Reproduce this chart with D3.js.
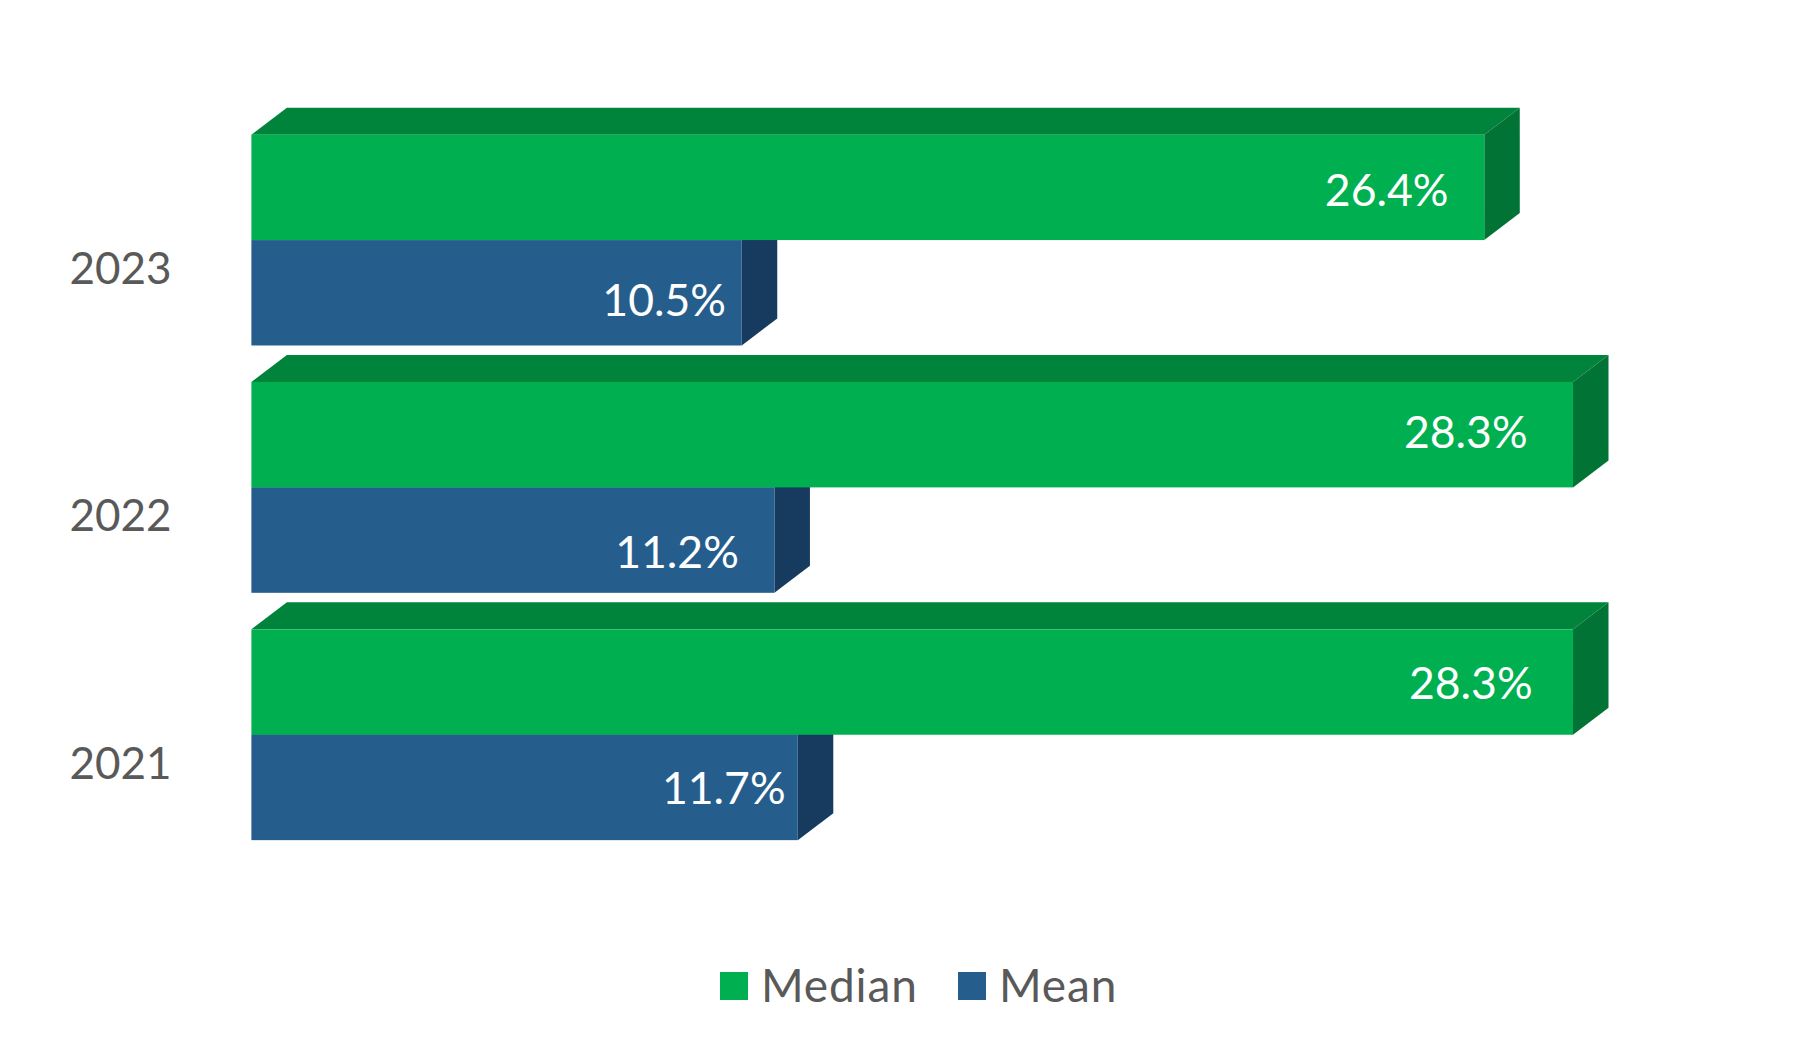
<!DOCTYPE html>
<html>
<head>
<meta charset="utf-8">
<script src="https://cdn.jsdelivr.net/npm/d3@7"></script>
<style>
  html, body { margin: 0; padding: 0; background: #fff; }
  svg { display: block; }
  text { font-family: Lato, sans-serif; }
</style>
</head>
<body>
<svg id="chart"></svg>
<script>
const years = ["2023", "2022", "2021"];
const seriesNames = ["Median", "Mean"];
const medianValues = [26.4, 28.3, 28.3];
const meanValues = [10.5, 11.2, 11.7];

const width = 1818;
const height = 1058;

// 3d look of the bars: how far the back face sits from the front one
const depthX = 35.5;
const depthY = 27;

const faceColors = {
  Median: { front: "#00b050", top: "#00843c", side: "#007335" },
  Mean: { front: "#255e8d", top: "#1b4568", side: "#173b5e" },
};

// hand placed labels, they do not sit at a fixed distance from the bar end
const labelShift = {
  "Median-2023": [-35.8, 71.2],
  "Mean-2023": [-15.8, 75.8],
  "Median-2022": [-45.4, 66],
  "Mean-2022": [-35.6, 80.5],
  "Median-2021": [-40.4, 70],
  "Mean-2021": [-12.2, 69.5],
};

const svg = d3.select("#chart").attr("width", width).attr("height", height);

const x = d3.scaleLinear([0, 30], [251.4, 1652.4]);
const y = d3.scaleBand(years, [116.4, 858.4]).paddingInner(0.1476).paddingOuter(0.0738);
const ySeries = d3.scaleBand(seriesNames, [0, y.bandwidth()]);

const rows = years.flatMap((year, i) => [
  { year, series: "Mean", value: meanValues[i] },
  { year, series: "Median", value: medianValues[i] },
]);

const bars = svg
  .append("g")
  .selectAll("g")
  .data(rows)
  .join("g")
  .attr("transform", (d) => `translate(0, ${y(d.year) + ySeries(d.series)})`);

const barH = ySeries.bandwidth();
const x0 = x(0);

bars
  .append("polygon")
  .attr("fill", (d) => faceColors[d.series].top)
  .attr("points", (d) => {
    const x1 = x(d.value);
    return [[x0, 0], [x0 + depthX, -depthY], [x1 + depthX, -depthY], [x1, 0]].join(" ");
  });

bars
  .append("polygon")
  .attr("fill", (d) => faceColors[d.series].side)
  .attr("points", (d) => {
    const x1 = x(d.value);
    return [[x1, 0], [x1 + depthX, -depthY], [x1 + depthX, barH - depthY], [x1, barH]].join(" ");
  });

bars
  .append("rect")
  .attr("x", x0)
  .attr("y", 0)
  .attr("width", (d) => x(d.value) - x0)
  .attr("height", barH)
  .attr("fill", (d) => faceColors[d.series].front);

bars
  .append("text")
  .attr("x", (d) => x(d.value) + labelShift[`${d.series}-${d.year}`][0])
  .attr("y", (d) => labelShift[`${d.series}-${d.year}`][1])
  .attr("text-anchor", "end")
  .attr("font-size", 44.5)
  .attr("fill", "#fff")
  .text((d) => `${d.value.toFixed(1)}%`);

const yAxis = d3.axisLeft(y).tickSize(0).tickPadding(0);

const axisG = svg
  .append("g")
  .attr("transform", `translate(171.5, ${depthY + 3})`)
  .call(yAxis);

axisG.select(".domain").remove();
axisG
  .selectAll("text")
  .attr("font-size", 44)
  .attr("font-family", "Lato, sans-serif")
  .attr("fill", "#595959");

// legend
const legendX = { Median: 720, Mean: 958 };
const legend = svg
  .append("g")
  .selectAll("g")
  .data(seriesNames)
  .join("g")
  .attr("transform", (d) => `translate(${legendX[d]}, 972)`);

legend
  .append("rect")
  .attr("width", 28)
  .attr("height", 28)
  .attr("fill", (d) => faceColors[d].front);

legend
  .append("text")
  .attr("x", 41)
  .attr("y", 29.5)
  .attr("font-size", 46)
  .attr("letter-spacing", 0.85)
  .attr("fill", "#595959")
  .text((d) => d);
</script>
</body>
</html>
